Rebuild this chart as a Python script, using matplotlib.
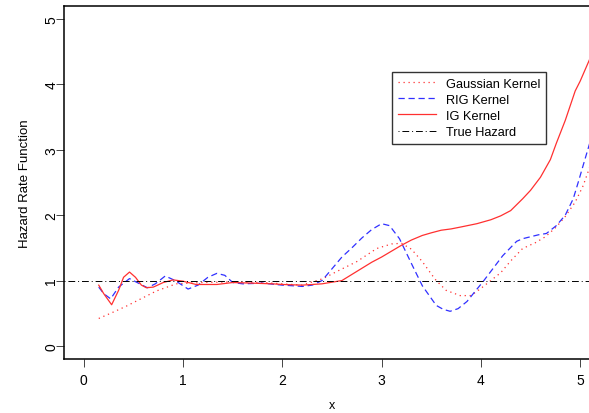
import matplotlib
matplotlib.use("Agg")
import matplotlib.pyplot as plt

plt.rcParams['font.family'] = ['Liberation Sans', 'DejaVu Sans']

# IG kernel estimate (red solid)
ig_x = [0.15, 0.2, 0.28, 0.35, 0.4, 0.46, 0.52, 0.58, 0.63, 0.7, 0.8, 0.9, 1.0, 1.13,
        1.34, 1.5, 1.7, 1.9, 2.0, 2.2, 2.4, 2.6, 2.75, 2.9, 3.0, 3.1, 3.2, 3.3, 3.41,
        3.5, 3.6, 3.7, 3.8, 3.96, 4.1, 4.2, 4.3, 4.42, 4.5, 4.6, 4.7, 4.76, 4.85, 4.95,
        5.0, 5.1]
ig_y = [0.93, 0.8, 0.63, 0.85, 1.05, 1.13, 1.05, 0.93, 0.89, 0.9, 0.97, 1.01, 0.99, 0.94,
        0.94, 0.97, 0.96, 0.95, 0.94, 0.93, 0.95, 1.0, 1.14, 1.28, 1.36, 1.45, 1.54, 1.62, 1.69,
        1.73, 1.77, 1.79, 1.82, 1.87, 1.93, 1.99, 2.07, 2.25, 2.38, 2.58, 2.85, 3.1, 3.45, 3.9,
        4.05, 4.4]

# RIG kernel estimate (blue dashed)
rig_x = [0.15, 0.2, 0.27, 0.35, 0.46, 0.55, 0.64, 0.72, 0.82, 0.92, 1.05, 1.15, 1.25, 1.34,
         1.42, 1.5, 1.6, 1.8, 2.0, 2.11, 2.2, 2.3, 2.4, 2.5, 2.6, 2.7, 2.8, 2.9, 3.0, 3.08,
         3.18, 3.31, 3.41, 3.55, 3.62, 3.69, 3.77, 3.86, 3.95, 4.02, 4.12, 4.22, 4.36, 4.42,
         4.5, 4.58, 4.66, 4.76, 4.85, 4.93, 4.98, 5.03, 5.1]
rig_y = [0.9, 0.8, 0.72, 0.9, 1.03, 0.96, 0.89, 0.95, 1.07, 1.0, 0.87, 0.93, 1.05, 1.11,
         1.08, 0.97, 0.95, 0.96, 0.93, 0.92, 0.91, 0.93, 1.0, 1.18, 1.36, 1.5, 1.65, 1.78,
         1.87, 1.84, 1.64, 1.23, 0.92, 0.62, 0.56, 0.53, 0.57, 0.68, 0.85, 0.98, 1.18, 1.38,
         1.6, 1.64, 1.67, 1.7, 1.72, 1.84, 2.0, 2.25, 2.5, 2.76, 3.12]

# Gaussian kernel estimate (red dotted)
gau_x = [0.15, 0.3, 0.43, 0.6, 0.73, 0.93, 1.2, 1.5, 1.8, 2.0, 2.2, 2.41, 2.55, 2.75,
         2.95, 3.1, 3.2, 3.3, 3.41, 3.5, 3.55, 3.65, 3.79, 3.9, 4.0, 4.1, 4.2, 4.3, 4.42,
         4.55, 4.65, 4.76, 4.85, 4.95, 5.03, 5.1]
gau_y = [0.42, 0.52, 0.61, 0.74, 0.84, 0.95, 0.97, 0.98, 0.97, 0.95, 0.93, 1.03, 1.14, 1.29,
         1.49, 1.56, 1.57, 1.48, 1.29, 1.1, 1.0, 0.85, 0.77, 0.77, 0.88, 1.0, 1.12, 1.3, 1.49,
         1.58, 1.67, 1.82, 1.98, 2.2, 2.45, 2.75]

true_level = 1.0

fig = plt.figure(figsize=(5.89, 4.14), dpi=100)
# right edge of the plot box falls outside the image, as in the original
ax = fig.add_axes([64 / 589, 1 - 360 / 414, 536 / 589, 353 / 414])

ax.plot(gau_x, gau_y, color='#ff3030', lw=0.9, linestyle=(0, (1, 3)), label='Gaussian Kernel')
ax.plot(rig_x, rig_y, color='#3030ff', lw=0.9, linestyle=(0, (5, 3)), label='RIG Kernel')
ax.plot(ig_x, ig_y, color='#ff3030', lw=0.9, linestyle='-', label='IG Kernel')
ax.axhline(true_level, color='black', lw=0.7, linestyle=(0, (1, 3, 7, 3)), label='True Hazard')

ax.set_xlim(-0.2, 5.2)
ax.set_ylim(-0.2, 5.2)
ax.set_xticks([0, 1, 2, 3, 4, 5])
ax.set_yticks([0, 1, 2, 3, 4, 5])
ax.tick_params(direction='out', length=6, width=0.7, color='#444444', labelsize=10, pad=4)
ax.tick_params(axis='y', pad=-2)
for lab in ax.get_yticklabels():
    lab.set_rotation(90)
    lab.set_va('center')
for s in ax.spines.values():
    s.set_linewidth(1.1)
ax.spines['right'].set_visible(False)

ax.set_xlabel('x', fontsize=9, labelpad=9)
ax.set_ylabel('Hazard Rate Function', fontsize=9.5, labelpad=10)

leg = ax.legend(loc='upper left', bbox_to_anchor=(392 / 589, 1 - 73 / 414),
                bbox_transform=fig.transFigure, borderaxespad=0, fontsize=9.2,
                fancybox=False, framealpha=1, edgecolor='#333333', handlelength=3.0,
                handletextpad=0.8, labelspacing=0.32, borderpad=0.45)
leg.get_frame().set_linewidth(1.0)

fig.savefig('out.png', dpi=100)
